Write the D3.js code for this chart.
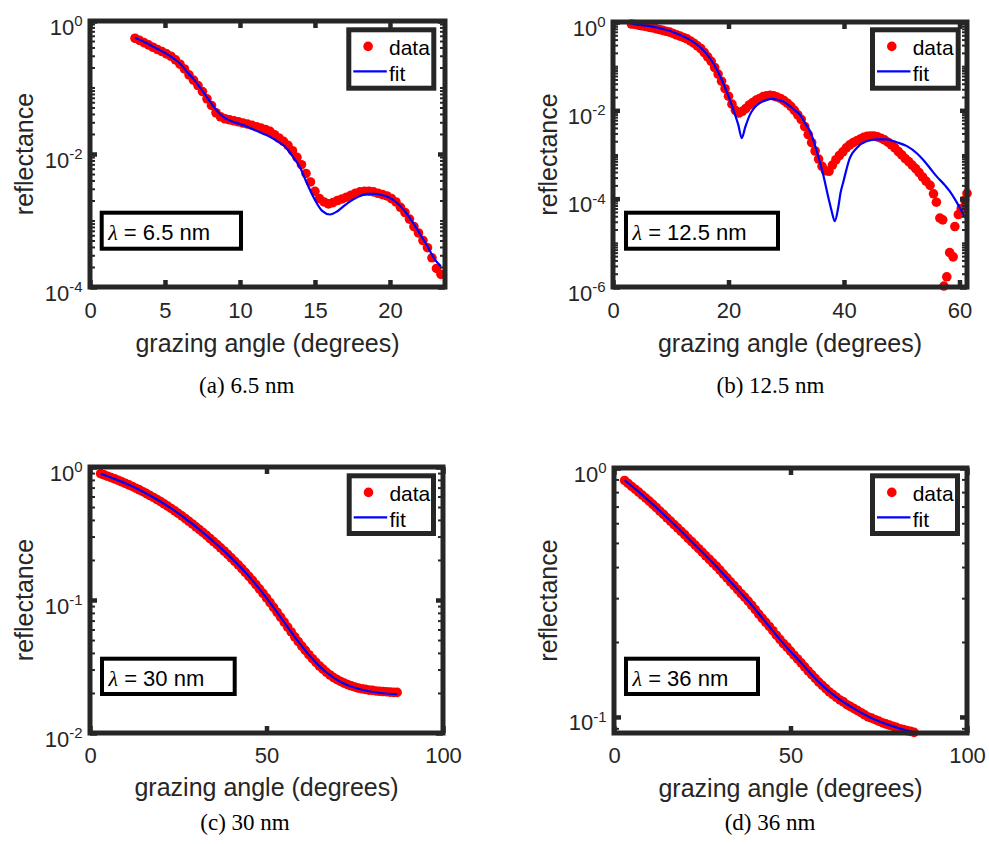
<!DOCTYPE html>
<html>
<head>
<meta charset="utf-8">
<script src="https://cdn.jsdelivr.net/npm/d3@7"></script>
<style>
  html, body { margin: 0; padding: 0; background: #ffffff; }
  svg { display: block; }
</style>
</head>
<body>
<svg id="chart" width="989" height="844"></svg>
<script>
// ---------------- DATA ----------------
// Panel (a) lambda = 6.5 nm
const aDataX = [3.0,3.3,3.6,3.9,4.2,4.5,4.8,5.1,5.4,5.7,6.0,6.3,6.6,6.9,7.2,7.5,7.8,8.1,8.4,8.7,9.0,9.3,9.6,9.9,10.2,10.5,10.8,11.1,11.4,11.7,12.0,12.3,12.6,12.9,13.2,13.5,13.8,14.1,14.4,14.7,15.0,15.3,15.6,15.9,16.2,16.5,16.8,17.1,17.4,17.7,18.0,18.3,18.6,18.9,19.2,19.5,19.8,20.1,20.4,20.7,21.0,21.3,21.6,21.9,22.2,22.5,22.8,23.1,23.4];
const aDataR = [0.55,0.513,0.473,0.437,0.403,0.372,0.347,0.32,0.295,0.26,0.224,0.19,0.155,0.129,0.107,0.087,0.0676,0.0537,0.0417,0.0363,0.0339,0.0327,0.0316,0.0305,0.0292,0.0282,0.0269,0.0257,0.0245,0.0234,0.0219,0.0195,0.0174,0.0155,0.0135,0.0112,0.0089,0.0069,0.0051,0.0038,0.00275,0.00214,0.0019,0.00178,0.00186,0.002,0.00211,0.00224,0.0024,0.00257,0.00269,0.00275,0.00275,0.00269,0.00257,0.00245,0.00234,0.00214,0.0019,0.00158,0.00132,0.00105,0.00081,0.00065,0.0005,0.00039,0.000275,0.00019,0.000155];
const aFitX = [3.0,3.5,4.0,4.5,5.0,5.5,6.0,6.5,7.0,7.5,8.0,8.5,9.0,9.5,10.0,10.5,11.0,11.5,12.0,12.5,13.0,13.5,14.0,14.5,15.0,15.5,16.0,16.5,17.0,17.5,18.0,18.5,19.0,19.5,20.0,20.5,21.0,21.5,22.0,22.5,23.0,23.4];
const aFitR = [0.562,0.501,0.437,0.38,0.331,0.282,0.229,0.17,0.126,0.089,0.0617,0.0437,0.0347,0.0309,0.0282,0.0257,0.0229,0.0204,0.0182,0.0155,0.0129,0.0093,0.0063,0.00347,0.00204,0.00138,0.00123,0.00138,0.0017,0.00204,0.00234,0.00251,0.00251,0.0024,0.00219,0.00182,0.00138,0.00095,0.00063,0.00041,0.000257,0.000204];

// Panel (b) lambda = 12.5 nm
const bDataX = [3.2,3.8,4.4,5.0,5.6,6.2,6.8,7.4,8.0,8.6,9.2,9.8,10.4,11.0,11.6,12.2,12.8,13.4,14.0,14.6,15.2,15.8,16.4,17.0,17.6,18.2,18.8,19.4,20.0,20.6,21.2,21.8,22.4,23.0,23.6,24.2,24.8,25.4,26.0,26.6,27.2,27.8,28.4,29.0,29.6,30.2,30.8,31.4,32.0,32.6,33.2,33.8,34.4,35.0,35.6,36.2,36.8,37.4,38.0,38.6,39.2,39.8,40.4,41.0,41.6,42.2,42.8,43.4,44.0,44.6,45.2,45.8,46.4,47.0,47.6,48.2,48.8,49.4,50.0,50.6,51.2,51.8,52.4,53.0,53.6,54.2,54.9,55.5,56.0,56.6,57.1,57.3,57.8,58.3,58.9,59.2,59.8,60.3,60.9,61.3];
const bDataR = [0.90,0.881,0.851,0.822,0.794,0.767,0.741,0.708,0.676,0.646,0.617,0.589,0.55,0.513,0.479,0.447,0.417,0.372,0.331,0.288,0.251,0.204,0.162,0.129,0.0933,0.0661,0.0457,0.0309,0.0209,0.0138,0.01,0.0087,0.0095,0.011,0.0132,0.0151,0.017,0.0186,0.0204,0.0214,0.0219,0.0214,0.02,0.0186,0.0166,0.0145,0.0123,0.01,0.0079,0.0062,0.00427,0.00282,0.00186,0.0012,0.00079,0.00054,0.000427,0.000417,0.000575,0.00076,0.00095,0.00115,0.00141,0.00166,0.00186,0.00204,0.00224,0.00245,0.00257,0.00263,0.00263,0.00251,0.00234,0.00214,0.0019,0.00166,0.00141,0.00117,0.00098,0.00081,0.00069,0.000575,0.000479,0.00039,0.00031,0.00025,0.0002,0.000129,0.0000832,0.0000363,0.0000331,0.00000105,0.0000017,0.000006,0.0000048,0.0000234,0.0000437,0.00006,0.0000933,0.000132];
const bFitX = [3.2,5,7,9,11,13,14,15,16,17,18,19,20,21,21.7,22.3,22.9,23.7,24.5,25.5,26.5,27.5,28.5,29.5,30.6,31.5,32.4,33.3,34.1,35.3,36.4,37.3,37.9,38.4,39.0,39.4,39.9,41.0,42.2,43.9,45.7,47.4,49.1,50.9,52.6,53.7,54.9,56.0,57.5,58.3,59.6,60.7,61.3];
const bFitR = [0.912,0.851,0.776,0.676,0.55,0.417,0.347,0.275,0.204,0.138,0.0832,0.0437,0.0209,0.0089,0.00468,0.00234,0.00417,0.0079,0.0115,0.0148,0.017,0.0182,0.0174,0.0158,0.0126,0.01,0.0079,0.005,0.00339,0.00117,0.000347,0.000105,0.00005,0.000031,0.000063,0.000135,0.000245,0.00083,0.00141,0.002,0.00219,0.00219,0.0019,0.00155,0.00107,0.00076,0.00049,0.000324,0.0002,0.000148,0.0000794,0.0000437,0.0000331];

// Panel (c) lambda = 30 nm
const cDataX = [3,4,5,6,7,8,9,10,11,12,13,14,15,16,17,18,19,20,21,22,23,24,25,26,27,28,29,30,31,32,33,34,35,36,37,38,39,40,41,42,43,44,45,46,47,48,49,50,51,52,53,54,55,56,57,58,59,60,61,62,63,64,65,66,67,68,69,70,71,72,73,74,75,76,77,78,79,80,81,82,83,84,85,86,87];
const cDataR = [0.891,0.872,0.852,0.833,0.814,0.795,0.774,0.754,0.734,0.714,0.693,0.673,0.652,0.631,0.610,0.590,0.569,0.549,0.528,0.508,0.488,0.468,0.448,0.429,0.410,0.391,0.373,0.355,0.338,0.322,0.306,0.290,0.275,0.261,0.247,0.2335,0.2204,0.2077,0.1955,0.1836,0.1722,0.1612,0.1507,0.1405,0.1306,0.1212,0.1122,0.1037,0.0956,0.0880,0.0809,0.0743,0.0682,0.0626,0.0575,0.0529,0.0487,0.0450,0.0418,0.0388,0.0362,0.0340,0.0319,0.0302,0.0286,0.0273,0.0261,0.0252,0.0244,0.0237,0.0231,0.0226,0.0222,0.0218,0.0215,0.0213,0.0210,0.0209,0.0207,0.0206,0.0205,0.0204,0.0203,0.0202,0.0202];
const cFitX = [3,7,11,15,19,23,27,31,35,39,43,47,51,55,59,63,67,71,75,79,83,87];
const cFitR = [0.891,0.814,0.734,0.652,0.569,0.488,0.410,0.338,0.275,0.2204,0.1722,0.1306,0.0956,0.0682,0.0487,0.0362,0.0285,0.0242,0.0219,0.0206,0.0199,0.0196];

// Panel (d) lambda = 36 nm
const dDataX = [3,4,5,6,7,8,9,10,11,12,13,14,15,16,17,18,19,20,21,22,23,24,25,26,27,28,29,30,31,32,33,34,35,36,37,38,39,40,41,42,43,44,45,46,47,48,49,50,51,52,53,54,55,56,57,58,59,60,61,62,63,64,65,66,67,68,69,70,71,72,73,74,75,76,77,78,79,80,81,82,83,84,85];
const dDataR = [0.891,0.867,0.843,0.822,0.800,0.778,0.757,0.736,0.714,0.693,0.671,0.652,0.631,0.612,0.593,0.575,0.557,0.540,0.522,0.506,0.490,0.474,0.459,0.444,0.430,0.416,0.403,0.389,0.375,0.362,0.349,0.337,0.325,0.313,0.303,0.292,0.281,0.270,0.259,0.249,0.240,0.231,0.222,0.213,0.205,0.197,0.191,0.184,0.177,0.171,0.165,0.159,0.153,0.148,0.143,0.138,0.134,0.130,0.126,0.123,0.120,0.117,0.115,0.112,0.110,0.108,0.106,0.104,0.102,0.100,0.0989,0.0975,0.0962,0.0948,0.0938,0.0927,0.0918,0.0908,0.0897,0.0889,0.0881,0.0875,0.0867];
const dFitX = [3,8,13,18,23,28,33,38,43,48,53,58,63,68,73,78,83,85];
const dFitR = [0.893,0.78,0.672,0.576,0.49,0.416,0.349,0.292,0.24,0.197,0.165,0.138,0.12,0.108,0.0989,0.0927,0.0881,0.0867];

// Tick values and texts
const aXTicks = [0,5,10,15,20];
const bXTicks = [0,20,40,60];
const cXTicks = [0,50,100];
const dXTicks = [0,50,100];
const aYTickExp = [0,-2,-4];
const bYTickExp = [0,-2,-4,-6];
const cYTickExp = [0,-1,-2];
const dYTickExp = [0,-1];
const xLabel = "grazing angle (degrees)";
const yLabel = "reflectance";
const legendLabels = ["data","fit"];
const lambdaTexts = ["6.5 nm","12.5 nm","30 nm","36 nm"];
const captions = ["(a) 6.5 nm","(b) 12.5 nm","(c) 30 nm","(d) 36 nm"];

// ---------------- LAYOUT ----------------
const AX = "#262626";
const SANS = "'Liberation Sans', Arial, Helvetica, sans-serif";
const SERIF = "'Liberation Serif', 'Times New Roman', Times, serif";
const MR = 4.8;

const panels = [
  { dx: aDataX, dy: aDataR, fx: aFitX, fy: aFitR, xt: aXTicks, yt: aYTickExp,
    left: 90, right: 445, top: 21, bottom: 287, xDom: [0, 23.67], yDom: [1e-4, 1],
    ylabX: 32.7, xtickBase: 318.3, xlabBase: 351.7,
    leg: [348.8, 29.8, 85, 58.4], ann: [101.7, 212.7, 139.3, 36], lam: lambdaTexts[0],
    cap: captions[0], capX: 246.7, capY: 392.7 },
  { dx: bDataX, dy: bDataR, fx: bFitX, fy: bFitR, xt: bXTicks, yt: bYTickExp,
    left: 613, right: 967, top: 22, bottom: 287, xDom: [0, 61.3], yDom: [1e-6, 1],
    ylabX: 556.7, xtickBase: 318.3, xlabBase: 351.7,
    leg: [872.5, 29.8, 85.7, 58.4], ann: [626, 212.7, 152, 36], lam: lambdaTexts[1],
    cap: captions[1], capX: 770.5, capY: 392.7 },
  { dx: cDataX, dy: cDataR, fx: cFitX, fy: cFitR, xt: cXTicks, yt: cYTickExp,
    left: 90, right: 443, top: 467, bottom: 733, xDom: [0, 100], yDom: [1e-2, 1],
    ylabX: 32.7, xtickBase: 763.3, xlabBase: 795.5,
    leg: [349.2, 475.8, 84.3, 57.7], ann: [102, 658.7, 132.7, 35.3], lam: lambdaTexts[2],
    cap: captions[2], capX: 245, capY: 830 },
  { dx: dDataX, dy: dDataR, fx: dFitX, fy: dFitR, xt: dXTicks, yt: dYTickExp,
    left: 614, right: 967, top: 468, bottom: 733, xDom: [0, 100], yDom: [0.0862, 1],
    ylabX: 556.7, xtickBase: 763.3, xlabBase: 796.5,
    leg: [872.5, 475.8, 85, 57.7], ann: [626, 658.7, 132, 35.3], lam: lambdaTexts[3],
    cap: captions[3], capX: 770, capY: 830 }
];

const svg = d3.select("#chart");
svg.append("rect").attr("width", 989).attr("height", 844).attr("fill", "#fff");

function minorValues(dom) {
  const out = [];
  const lo = Math.floor(Math.log10(dom[0])), hi = Math.ceil(Math.log10(dom[1]));
  for (let e = lo; e < hi; e++) {
    for (let m = 1; m <= 9; m++) {
      const v = m * Math.pow(10, e);
      if (v >= dom[0] && v <= dom[1]) out.push(v);
    }
  }
  return out;
}

function styleAxis(g, w) {
  g.select(".domain").remove();
  g.selectAll(".tick line").attr("stroke", AX).attr("stroke-width", w);
}

panels.forEach(p => {
  const g = svg.append("g");
  const x = d3.scaleLinear().domain(p.xDom).range([p.left, p.right]);
  const y = d3.scaleLog().domain(p.yDom).range([p.bottom, p.top]);
  const pts = p.dx.map((v, i) => [v, p.dy[i]]);
  const fit = p.fx.map((v, i) => [v, p.fy[i]]);

  // data markers
  g.append("g").selectAll("circle").data(pts).join("circle")
    .attr("cx", d => x(d[0])).attr("cy", d => y(d[1])).attr("r", MR)
    .attr("fill", "#ff0000");

  // fit line
  const line = d3.line().x(d => x(d[0])).y(d => y(d[1])).curve(d3.curveMonotoneX);
  g.append("path").datum(fit).attr("d", line)
    .attr("fill", "none").attr("stroke", "#0000ff").attr("stroke-width", 2.2)
    .attr("stroke-linejoin", "round");

  // minor log ticks (left/right)
  const minors = minorValues(p.yDom);
  styleAxis(g.append("g").attr("transform", `translate(${p.left},0)`)
    .call(d3.axisLeft(y).tickValues(minors).tickSizeInner(-5).tickSizeOuter(0).tickFormat("")), 2);
  styleAxis(g.append("g").attr("transform", `translate(${p.right},0)`)
    .call(d3.axisRight(y).tickValues(minors).tickSizeInner(-5).tickSizeOuter(0).tickFormat("")), 2);

  // major ticks
  const yMaj = p.yt.map(e => Math.pow(10, e));
  const gl = g.append("g").attr("transform", `translate(${p.left},0)`)
    .call(d3.axisLeft(y).tickValues(yMaj).tickSizeInner(-7).tickSizeOuter(0).tickFormat(""));
  styleAxis(gl, 4.5);
  styleAxis(g.append("g").attr("transform", `translate(${p.right},0)`)
    .call(d3.axisRight(y).tickValues(yMaj).tickSizeInner(-7).tickSizeOuter(0).tickFormat("")), 4.5);
  const gb = g.append("g").attr("transform", `translate(0,${p.bottom})`)
    .call(d3.axisBottom(x).tickValues(p.xt).tickSizeInner(-7).tickSizeOuter(0)
      .tickPadding(p.xtickBase - p.bottom - 15.6).tickFormat(d3.format("d")));
  styleAxis(gb, 4.5);
  gb.selectAll(".tick text").attr("font-family", SANS).attr("font-size", 22).attr("fill", AX);
  styleAxis(g.append("g").attr("transform", `translate(0,${p.top})`)
    .call(d3.axisTop(x).tickValues(p.xt).tickSizeInner(-7).tickSizeOuter(0).tickFormat("")), 4.5);

  // y tick labels 10^n
  gl.selectAll(".tick").each(function(d) {
    const e = Math.round(Math.log10(d));
    const t = d3.select(this).append("text")
      .attr("x", -7.5).attr("y", 13).attr("text-anchor", "end")
      .attr("font-family", SANS).attr("fill", AX);
    t.append("tspan").attr("font-size", 22).text("10");
    t.append("tspan").attr("font-size", 15).attr("dy", -8.5).text(String(e));
  });

  // frame
  g.append("rect").attr("x", p.left).attr("y", p.top)
    .attr("width", p.right - p.left).attr("height", p.bottom - p.top)
    .attr("fill", "none").attr("stroke", AX).attr("stroke-width", 5);

  // axis labels
  g.append("text").attr("x", (p.left + p.right) / 2).attr("y", p.xlabBase)
    .attr("text-anchor", "middle").attr("font-family", SANS).attr("font-size", 25)
    .attr("fill", AX).text(xLabel);
  g.append("text")
    .attr("transform", `translate(${p.ylabX},${(p.top + p.bottom) / 2}) rotate(-90)`)
    .attr("text-anchor", "middle").attr("font-family", SANS).attr("font-size", 25)
    .attr("fill", AX).text(yLabel);

  // legend
  const [lx, ly, lw, lh] = p.leg;
  const lg = g.append("g");
  lg.append("rect").attr("x", lx).attr("y", ly).attr("width", lw).attr("height", lh)
    .attr("fill", "#fff").attr("stroke", AX).attr("stroke-width", 5);
  lg.append("circle").attr("cx", lx + 19.3).attr("cy", ly + 16.6).attr("r", MR).attr("fill", "#ff0000");
  lg.append("text").attr("x", lx + 40.2).attr("y", ly + 25).attr("font-family", SANS)
    .attr("font-size", 21).attr("fill", "#000").text(legendLabels[0]);
  lg.append("line").attr("x1", lx + 4.5).attr("x2", lx + 38).attr("y1", ly + 41.6).attr("y2", ly + 41.6)
    .attr("stroke", "#0000ff").attr("stroke-width", 2.2);
  lg.append("text").attr("x", lx + 40.2).attr("y", ly + 51.5).attr("font-family", SANS)
    .attr("font-size", 21).attr("fill", "#000").text(legendLabels[1]);

  // lambda annotation
  const [ax0, ay0, aw, ah] = p.ann;
  g.append("rect").attr("x", ax0).attr("y", ay0).attr("width", aw).attr("height", ah)
    .attr("fill", "#fff").attr("stroke", "#000").attr("stroke-width", 4);
  const at = g.append("text").attr("x", ax0 + 6.5).attr("y", ay0 + 26.8).attr("font-size", 22).attr("fill", "#000");
  at.append("tspan").attr("font-family", SERIF).attr("font-style", "italic").text("λ");
  at.append("tspan").attr("font-family", SANS).text(" = " + p.lam);

  // caption
  g.append("text").attr("x", p.capX).attr("y", p.capY).attr("text-anchor", "middle")
    .attr("font-family", SERIF).attr("font-size", 23).attr("fill", "#000").text(p.cap);
});
</script>
</body>
</html>
